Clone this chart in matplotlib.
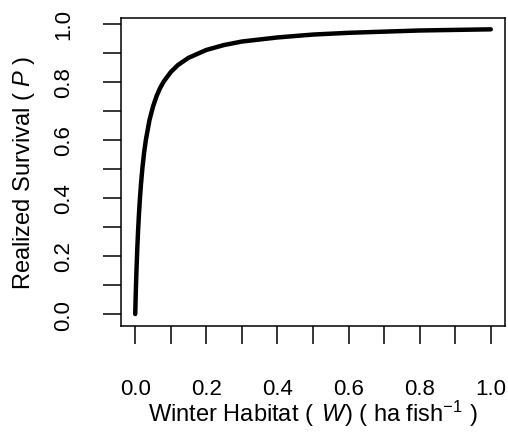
import matplotlib
matplotlib.use("Agg")
import matplotlib.pyplot as plt
from matplotlib.ticker import FixedLocator

plt.rcParams['font.family'] = ['Liberation Sans', 'DejaVu Sans']
plt.rcParams['mathtext.fontset'] = 'custom'
plt.rcParams['mathtext.rm'] = 'Liberation Sans'
plt.rcParams['mathtext.it'] = 'Liberation Sans:italic'

# Values
winter_habitat = [0.0, 0.001, 0.002, 0.004, 0.006, 0.008, 0.010, 0.013, 0.016, 0.020,
                  0.025, 0.030, 0.040, 0.050, 0.060, 0.070, 0.080, 0.100, 0.120,
                  0.150, 0.200, 0.250, 0.300, 0.400, 0.500, 0.600, 0.700, 0.800,
                  0.900, 1.000]
realized_survival = [0.0, 0.048, 0.091, 0.167, 0.231, 0.286, 0.333, 0.394, 0.444, 0.500,
                     0.556, 0.600, 0.667, 0.714, 0.750, 0.778, 0.800, 0.833, 0.857,
                     0.882, 0.909, 0.926, 0.938, 0.952, 0.962, 0.968, 0.972, 0.976,
                     0.978, 0.980]

major_ticks = [0.0, 0.2, 0.4, 0.6, 0.8, 1.0]
minor_ticks = [0.1, 0.3, 0.5, 0.7, 0.9]
tick_labels = ['0.0', '0.2', '0.4', '0.6', '0.8', '1.0']

fig = plt.figure(figsize=(5.08, 4.35), dpi=100)
ax = fig.add_axes([121 / 508, 1 - 326.7 / 435, (505 - 121) / 508, (326.7 - 18.7) / 435])

ax.plot(winter_habitat, realized_survival, color='black', lw=3.2,
        solid_capstyle='round', solid_joinstyle='round')

ax.set_xlim(-0.04, 1.04)
ax.set_ylim(-0.04, 1.02)

for axis in (ax.xaxis, ax.yaxis):
    axis.set_major_locator(FixedLocator(major_ticks))
    axis.set_minor_locator(FixedLocator(minor_ticks))
ax.set_xticklabels(tick_labels)
ax.set_yticklabels(tick_labels, rotation=90, va='center')

ax.tick_params(which='both', direction='out', length=13, width=1.1, color='black')
ax.tick_params(axis='x', which='major', pad=24.5, labelsize=16)
ax.tick_params(axis='y', which='major', pad=21, labelsize=16)

for sp in ax.spines.values():
    sp.set_linewidth(1.1)
    sp.set_color('black')

ax.set_xlabel('Winter Habitat ( $\\,\\it{W}$) ( ha fish$^{-1}$ )', fontsize=17, labelpad=-0.5)
ax.set_ylabel('Realized Survival ( $\\it{P}$ )', fontsize=17, labelpad=11)

fig.savefig('out.png', dpi=100)
